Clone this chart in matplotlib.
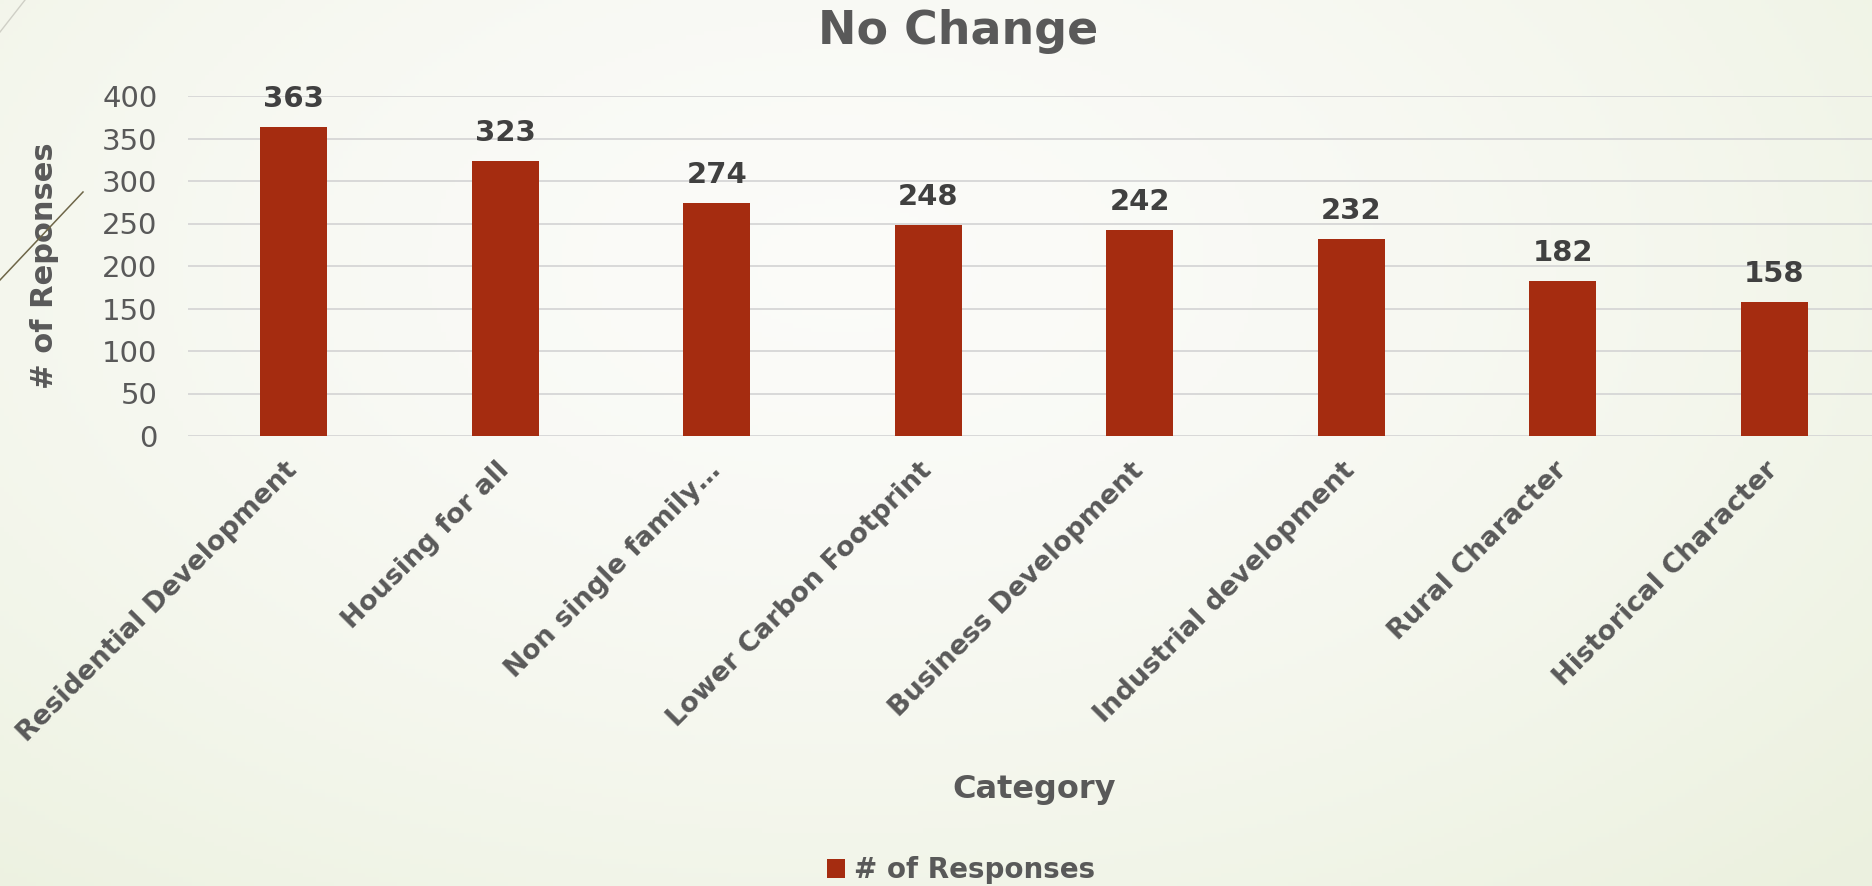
import numpy as np
import matplotlib
matplotlib.use("Agg")
import matplotlib.pyplot as plt
from matplotlib.patches import Patch
from matplotlib.lines import Line2D

categories = ["Residential Development", "Housing for all", "Non single family\u2026",
              "Lower Carbon Footprint", "Business Development", "Industrial development",
              "Rural Character", "Historical Character"]
responses = [363, 323, 274, 248, 242, 232, 182, 158]
y_ticks = [0, 50, 100, 150, 200, 250, 300, 350, 400]

bar_color = "#a52c10"
text_gray = "#595959"
label_dark = "#404040"
grid_gray = "#d6d6d6"

plt.rcParams["font.family"] = ["DejaVu Sans"]

W, H = 1872, 886
fig = plt.figure(figsize=(W / 100, H / 100), dpi=100)

# soft slide background
bg = fig.add_axes([0, 0, 1, 1], zorder=-10)
yy, xx = np.mgrid[0:1:200j, 0:1:420j]
d = np.sqrt(((xx - 0.45) / 0.75) ** 2 + ((yy - 0.3) / 0.95) ** 2)
t = np.clip(d, 0, 1) ** 1.6
c0 = np.array([0.985, 0.985, 0.975])
c1 = np.array([0.925, 0.945, 0.875])
bg.imshow(c0 + (c1 - c0) * t[..., None], aspect="auto", extent=[0, 1, 0, 1], origin="upper")
bg.axis("off")

# slide decoration lines
fig.add_artist(Line2D([0, 83 / W], [1 - 280 / H, 1 - 192 / H], color="#6e6648", lw=1.1))
fig.add_artist(Line2D([0, 25 / W], [1 - 32 / H, 1], color="#cfcfc6", lw=1.0))

ax = fig.add_axes([188 / W, 1 - 436 / H, 1692 / W, 340 / H])
ax.patch.set_alpha(0)

x = np.arange(len(categories))
ax.bar(x, responses, width=0.317, color=bar_color, zorder=3)
for xi, v in zip(x, responses):
    ax.annotate(str(v), (xi, v), xytext=(0, 14.4), textcoords="offset points",
                ha="center", va="baseline", fontsize=21, fontweight="bold", color=label_dark)

ax.set_xlim(-0.5, len(categories) - 0.5)
ax.set_ylim(0, 400)
ax.set_yticks(y_ticks)
ax.set_xticks(x)
ax.set_xticklabels(categories, rotation=45, ha="right", va="center", rotation_mode="anchor",
                   fontsize=19.5, fontweight="bold", color=text_gray)
ax.tick_params(axis="x", length=0, pad=22)
ax.tick_params(axis="y", length=0, pad=22, labelsize=21, labelcolor=text_gray)
ax.grid(axis="y", color=grid_gray, lw=1.3, zorder=0)
for s in ax.spines.values():
    s.set_visible(False)

ax.set_ylabel("# of Reponses", fontsize=22, fontweight="bold", color=text_gray)
ax.yaxis.set_label_coords(-0.0762, 0.5)
ax.set_xlabel("Category", fontsize=23, fontweight="bold", color=text_gray, va="center")
ax.xaxis.set_label_coords(0.5, -1.04)

fig.text(958 / W, 1 - 32 / H, "No Change", ha="center", va="center",
         fontsize=33, fontweight="bold", color=text_gray)

fig.legend(handles=[Patch(facecolor=bar_color)], labels=["# of Responses"], loc="center",
           bbox_to_anchor=(961 / W, 1 - 870 / H), frameon=False,
           prop={"size": 20, "weight": "bold"}, labelcolor=text_gray,
           handlelength=0.65, handleheight=0.65, handletextpad=0.35)

fig.savefig("out.png", dpi=100)
